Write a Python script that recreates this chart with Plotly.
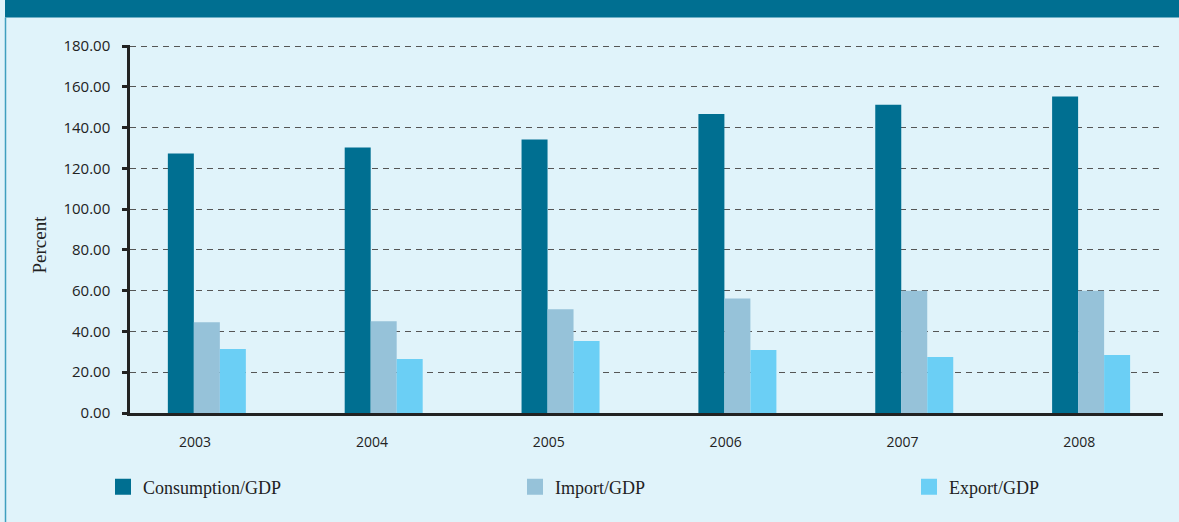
import plotly.graph_objects as go

# Ratios to GDP, percent
years = [2003, 2004, 2005, 2006, 2007, 2008]
consumption_gdp = [127.3, 130.2, 134.1, 146.6, 151.2, 155.3]
import_gdp = [44.5, 45.0, 50.9, 56.2, 60.0, 60.0]
export_gdp = [31.4, 26.5, 35.3, 30.9, 27.5, 28.5]
series_names = ["Consumption/GDP", "Import/GDP", "Export/GDP"]
y_ticks = [0, 20, 40, 60, 80, 100, 120, 140, 160, 180]

W, H = 1179, 522
ML, MR, MT, MB = 130, 16, 45, 109
PW, PH = W - ML - MR, H - MT - MB
Y_MAX = 180.5  # a little headroom so the 180 gridline is drawn

C_CONS = "#006f91"
C_IMP = "#96c2d9"
C_EXP = "#6bcff5"
BG = "#e0f3fa"
AXIS = "#222222"

bar_w = 0.147
offsets = [-0.154, -0.007, 0.140]
series = [consumption_gdp, import_gdp, export_gdp]
colors = [C_CONS, C_IMP, C_EXP]

fig = go.Figure()
for name, vals, col, off in zip(series_names, series, colors, offsets):
    fig.add_trace(go.Bar(
        x=years, y=vals, name=name, width=bar_w, offset=off,
        marker=dict(color=col, line=dict(width=0)),
        showlegend=False,
    ))

# legend entries with larger square swatches, each in its own legend box
legend_ids = ["legend", "legend2", "legend3"]
legend_centers = [123, 535, 929]
for name, col, lid in zip(series_names, colors, legend_ids):
    fig.add_trace(go.Scatter(
        x=[None], y=[None], mode="markers", name=name, legend=lid,
        marker=dict(symbol="square", size=16, color=col, line=dict(width=0)),
        showlegend=True,
    ))

legend_style = dict(
    orientation="h", xref="container", yref="container",
    yanchor="middle", xanchor="left", y=(H - 487) / H,
    bgcolor="rgba(0,0,0,0)", borderwidth=0,
    font=dict(family="Liberation Serif", size=18, color="#222222"),
    itemsizing="trace",
)
layout_legends = {}
for lid, cx in zip(legend_ids, legend_centers):
    layout_legends[lid] = dict(legend_style, x=(cx - 20) / W)

fig.update_layout(
    width=W, height=H,
    margin=dict(l=ML, r=MR, t=MT, b=MB, pad=0),
    paper_bgcolor=BG, plot_bgcolor=BG,
    barmode="overlay",
    **layout_legends,
    xaxis=dict(
        range=[2002.632, 2008.473],
        tickvals=years, ticktext=[str(y) for y in years],
        showgrid=False, zeroline=False,
        showline=True, linecolor=AXIS, linewidth=3,
        ticks="", ticklabelstandoff=14,
        tickfont=dict(family="Open Sans", size=14, color="#222222"),
    ),
    yaxis=dict(
        range=[0, Y_MAX], tickvals=y_ticks, tickformat=".2f",
        showgrid=True, gridcolor="#555555", gridwidth=1.3, griddash="6px,5px",
        zeroline=False,
        showline=True, linecolor=AXIS, linewidth=2.5,
        ticks="outside", ticklen=5, tickwidth=2.5, tickcolor=AXIS,
        ticklabelstandoff=9,
        tickfont=dict(family="Open Sans", size=15, color="#222222"),
    ),
    shapes=[
        # header band
        dict(type="rect", xref="paper", yref="paper",
             x0=(5 - ML) / PW, x1=(W - ML) / PW,
             y0=1 + (MT - 17.5) / PH, y1=1 + MT / PH,
             fillcolor=C_CONS, line=dict(width=0), layer="above"),
        # left frame rule
        dict(type="line", xref="paper", yref="paper",
             x0=(5.5 - ML) / PW, x1=(5.5 - ML) / PW,
             y0=-MB / PH, y1=1 + (MT - 17.5) / PH,
             line=dict(color="#3f9fbf", width=1.5)),
    ],
    annotations=[
        dict(text="Percent", textangle=-90, showarrow=False,
             xref="paper", yref="paper",
             x=(38.5 - ML) / PW, y=(H - MB - 245) / PH,
             xanchor="center", yanchor="middle",
             font=dict(family="Liberation Serif", size=19, color="#222222")),
    ],
)

fig.write_html("out.html")
